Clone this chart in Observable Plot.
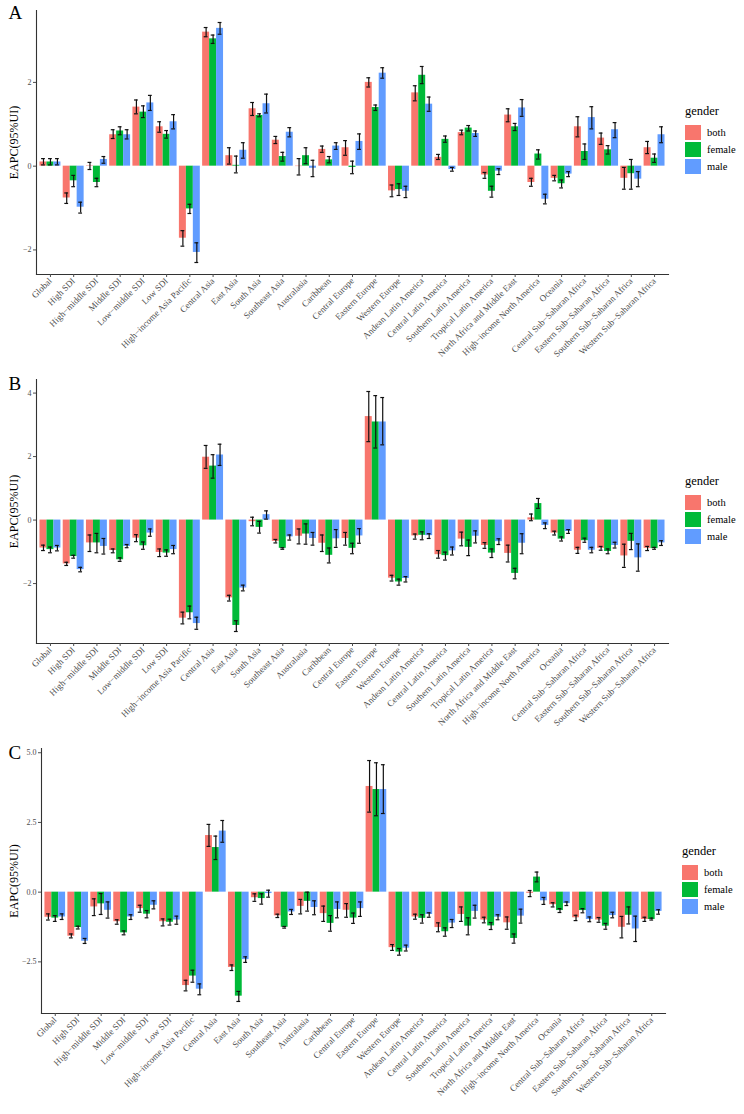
<!DOCTYPE html>
<html>
<head>
<meta charset="utf-8">
<script src="https://cdn.jsdelivr.net/npm/d3@7"></script>
<script src="https://cdn.jsdelivr.net/npm/@observablehq/plot@0.6"></script>
<style>
  body { margin: 0; background: white; }
  #root { position: relative; width: 744px; height: 1114px; font-family: "Liberation Serif", serif; }
  .panel { position: absolute; left: 0; }
  .legend { position: absolute; font-family: "Liberation Serif", serif; color: #000; }
  .legend .title { position: absolute; font-size: 12.5px; white-space: nowrap; }
  .legend .key { position: absolute; width: 16px; height: 15px; }
  .legend .lab { position: absolute; font-size: 10.5px; white-space: nowrap; line-height: 15px; }
</style>
</head>
<body>
<div id="root"></div>
<script>
const regions = ["Global","High SDI","High\u2212middle SDI","Middle SDI","Low\u2212middle SDI","Low SDI","High\u2212income Asia Pacific","Central Asia","East Asia","South Asia","Southeast Asia","Australasia","Caribbean","Central Europe","Eastern Europe","Western Europe","Andean Latin America","Central Latin America","Southern Latin America","Tropical Latin America","North Africa and Middle East","High\u2212income North America","Oceania","Central Sub\u2212Saharan Africa","Eastern Sub\u2212Saharan Africa","Southern Sub\u2212Saharan Africa","Western Sub\u2212Saharan Africa"];
const genders = ["both","female","male"];
const genderColors = ["#F8766D","#00BA38","#619CFF"];
const yLabel = "EAPC(95%UI)";
const FONT = "Liberation Serif";

// Panel A
const A_both      = [0.10,-0.76,0.01,0.75,1.41,0.94,-1.72,3.20,0.25,1.37,0.62,-0.01,0.40,0.44,2.00,-0.59,1.75,0.21,0.80,-0.21,1.22,-0.39,-0.29,0.94,0.67,-0.29,0.44];
const A_both_lo   = [0.03,-0.89,-0.08,0.66,1.25,0.81,-1.91,3.09,0.05,1.21,0.54,-0.21,0.33,0.26,1.89,-0.73,1.56,0.16,0.75,-0.29,1.06,-0.48,-0.35,0.70,0.52,-0.55,0.30];
const A_both_hi   = [0.18,-0.64,0.09,0.87,1.58,1.06,-1.54,3.31,0.44,1.52,0.71,0.18,0.48,0.61,2.11,-0.45,1.92,0.28,0.86,-0.15,1.37,-0.29,-0.22,1.18,0.79,-0.03,0.59];
const A_female    = [0.10,-0.35,-0.39,0.84,1.29,0.76,-1.02,3.04,0.02,1.21,0.23,0.25,0.15,-0.03,1.40,-0.56,2.17,0.64,0.91,-0.60,0.94,0.29,-0.42,0.35,0.39,-0.18,0.19];
const A_female_lo = [0.03,-0.49,-0.49,0.75,1.16,0.67,-1.13,2.93,-0.16,1.18,0.12,0.06,0.08,-0.18,1.33,-0.70,1.97,0.57,0.84,-0.74,0.85,0.17,-0.52,0.16,0.29,-0.55,0.09];
const A_female_hi = [0.18,-0.22,-0.29,0.94,1.44,0.85,-0.91,3.13,0.24,1.25,0.33,0.44,0.23,0.12,1.46,-0.42,2.38,0.72,0.97,-0.48,1.02,0.39,-0.33,0.53,0.49,0.16,0.29];
const A_male      = [0.10,-0.98,0.16,0.75,1.51,1.06,-2.06,3.29,0.38,1.49,0.81,-0.05,0.48,0.59,2.22,-0.60,1.48,-0.08,0.78,-0.12,1.39,-0.79,-0.19,1.16,0.87,-0.31,0.75];
const A_male_lo   = [0.03,-1.12,0.07,0.65,1.33,0.89,-2.30,3.15,0.19,1.27,0.70,-0.25,0.40,0.40,2.10,-0.75,1.31,-0.12,0.71,-0.20,1.19,-0.90,-0.25,0.89,0.68,-0.49,0.56];
const A_male_hi   = [0.18,-0.86,0.23,0.87,1.69,1.23,-1.83,3.43,0.56,1.72,0.92,0.14,0.56,0.77,2.35,-0.48,1.65,-0.03,0.84,-0.06,1.59,-0.67,-0.13,1.42,1.04,-0.13,0.94];

// Panel B
const B_both      = [-0.88,-1.38,-0.72,-0.96,-0.57,-1.02,-3.09,1.98,-2.45,-0.05,-0.67,-0.51,-0.73,-0.58,3.26,-1.83,-0.50,-1.09,-0.60,-0.80,-1.05,0.07,-0.41,-0.95,-0.89,-1.13,-0.89];
const B_both_lo   = [-0.96,-1.43,-0.99,-1.03,-0.68,-1.15,-3.27,1.63,-2.55,-0.18,-0.72,-0.75,-0.99,-0.79,2.47,-1.92,-0.60,-1.20,-0.81,-0.89,-1.32,-0.02,-0.47,-1.05,-0.95,-1.49,-0.96];
const B_both_hi   = [-0.79,-1.33,-0.47,-0.91,-0.46,-0.91,-2.90,2.35,-2.37,0.09,-0.61,-0.28,-0.47,-0.39,4.05,-1.74,-0.44,-0.96,-0.38,-0.71,-0.79,0.19,-0.35,-0.86,-0.83,-0.76,-0.83];
const B_female    = [-0.93,-1.15,-0.72,-1.25,-0.81,-1.04,-2.92,1.70,-3.32,-0.23,-0.89,-0.44,-1.11,-0.89,3.09,-1.95,-0.48,-1.12,-0.86,-1.04,-1.68,0.52,-0.60,-0.65,-0.99,-0.67,-0.90];
const B_female_lo = [-1.03,-1.20,-1.03,-1.30,-0.92,-1.14,-3.11,1.32,-3.51,-0.41,-0.92,-0.76,-1.35,-1.06,2.27,-2.05,-0.62,-1.26,-1.12,-1.18,-1.85,0.37,-0.66,-0.70,-1.06,-0.93,-0.92];
const B_female_hi = [-0.85,-1.11,-0.42,-1.19,-0.69,-0.94,-2.71,2.06,-3.17,-0.04,-0.87,-0.12,-0.88,-0.73,3.92,-1.86,-0.37,-1.01,-0.63,-0.91,-1.52,0.68,-0.53,-0.57,-0.91,-0.42,-0.86];
const B_male      = [-0.88,-1.56,-0.83,-0.83,-0.41,-0.93,-3.26,2.05,-2.14,0.17,-0.53,-0.58,-0.59,-0.50,3.09,-1.84,-0.49,-0.97,-0.51,-0.68,-0.73,-0.17,-0.36,-0.95,-0.80,-1.19,-0.72];
const B_male_lo   = [-0.97,-1.63,-1.07,-0.87,-0.51,-1.06,-3.44,1.72,-2.23,0.03,-0.63,-0.79,-0.86,-0.73,2.37,-1.95,-0.58,-1.10,-0.72,-0.77,-1.06,-0.27,-0.42,-1.03,-0.88,-1.61,-0.80];
const B_male_hi   = [-0.80,-1.49,-0.58,-0.77,-0.28,-0.80,-3.06,2.39,-2.05,0.29,-0.47,-0.39,-0.30,-0.27,3.86,-1.78,-0.43,-0.85,-0.34,-0.59,-0.43,-0.09,-0.30,-0.86,-0.70,-0.75,-0.65];

// Panel C
const C_both      = [-0.90,-1.58,-0.53,-1.06,-0.59,-1.06,-3.35,2.03,-2.70,-0.20,-0.85,-0.51,-0.77,-0.65,3.79,-1.99,-0.89,-1.27,-0.80,-1.00,-1.10,-0.04,-0.45,-0.92,-1.00,-1.26,-0.98];
const C_both_lo   = [-1.00,-1.64,-0.84,-1.15,-0.72,-1.21,-3.54,1.64,-2.81,-0.33,-0.91,-0.78,-1.05,-0.90,2.87,-2.09,-0.97,-1.42,-1.05,-1.10,-1.33,-0.16,-0.53,-1.02,-1.08,-1.64,-1.05];
const C_both_hi   = [-0.78,-1.50,-0.24,-0.99,-0.47,-0.96,-3.16,2.43,-2.61,-0.06,-0.79,-0.26,-0.50,-0.41,4.72,-1.88,-0.79,-1.10,-0.53,-0.90,-0.89,0.06,-0.38,-0.83,-0.91,-0.87,-0.90];
const C_female    = [-0.93,-1.27,-0.42,-1.46,-0.79,-1.08,-3.01,1.60,-3.73,-0.23,-1.26,-0.33,-1.12,-0.93,3.68,-2.15,-0.94,-1.42,-1.22,-1.21,-1.66,0.54,-0.66,-0.66,-1.22,-0.83,-0.98];
const C_female_lo = [-1.05,-1.32,-0.80,-1.53,-0.92,-1.18,-3.23,1.17,-3.92,-0.43,-1.29,-0.68,-1.40,-1.12,2.74,-2.26,-1.11,-1.58,-1.53,-1.34,-1.83,0.37,-0.73,-0.74,-1.33,-1.14,-1.00];
const C_female_hi = [-0.84,-1.22,-0.05,-1.39,-0.66,-0.97,-2.80,2.01,-3.56,-0.06,-1.23,0.00,-0.84,-0.75,4.64,-2.02,-0.81,-1.28,-0.92,-1.09,-1.50,0.72,-0.59,-0.59,-1.12,-0.53,-0.93];
const C_male      = [-0.89,-1.76,-0.65,-0.89,-0.47,-1.00,-3.48,2.19,-2.42,-0.05,-0.71,-0.55,-0.62,-0.59,3.68,-2.01,-0.80,-1.11,-0.69,-0.90,-0.86,-0.31,-0.41,-0.98,-0.84,-1.32,-0.69];
const C_male_lo   = [-0.98,-1.84,-0.93,-0.98,-0.60,-1.15,-3.68,1.79,-2.52,-0.18,-0.80,-0.81,-0.92,-0.87,2.82,-2.11,-0.90,-1.27,-0.93,-0.99,-1.11,-0.44,-0.48,-1.06,-0.92,-1.77,-0.79];
const C_male_hi   = [-0.78,-1.66,-0.35,-0.81,-0.31,-0.86,-3.29,2.57,-2.32,0.07,-0.62,-0.31,-0.35,-0.35,4.57,-1.90,-0.74,-0.98,-0.47,-0.81,-0.61,-0.19,-0.35,-0.89,-0.72,-0.86,-0.63];

const A_ticks = [-2, 0, 2];
const B_ticks = [-2, 0, 2, 4];
const C_ticks = [-2.5, 0, 2.5, 5];

const W = 744;
const root = document.getElementById("root");

function makePanel(p) {
  const data = genders.map((g, k) => regions.map((r, i) => ({
    region: r, gender: g, value: p.series[k][0][i], lo: p.series[k][1][i], hi: p.series[k][2][i]
  })));
  const all = data.flat();
  const mn = Math.min(0, d3.min(all, d => Math.min(d.lo, d.value)));
  const mx = Math.max(0, d3.max(all, d => Math.max(d.hi, d.value)));
  const ex = (mx - mn) * 0.05;
  const step = (W - p.ml - p.mr) / (regions.length - 0.1 + 0.3);
  const bw = step * 0.9;
  const sub = bw / 3;
  const cap = 1.9;
  const marks = [];
  data.forEach((dk, k) => {
    marks.push(Plot.barY(dk, {x: "region", y: "value", fill: genderColors[k], insetLeft: k * sub, insetRight: (2 - k) * sub}));
  });
  data.forEach((dk, k) => {
    const dx = (k - 1) * sub;
    marks.push(Plot.ruleX(dk, {x: "region", y1: "lo", y2: "hi", dx, stroke: "#111", strokeWidth: 1.2}));
    marks.push(Plot.tickY(dk, {x: "region", y: "lo", dx, stroke: "#111", strokeWidth: 1.2, insetLeft: bw / 2 - cap, insetRight: bw / 2 - cap}));
    marks.push(Plot.tickY(dk, {x: "region", y: "hi", dx, stroke: "#111", strokeWidth: 1.2, insetLeft: bw / 2 - cap, insetRight: bw / 2 - cap}));
  });
  marks.push(Plot.frame({anchor: "left", stroke: "#333", strokeWidth: 1.1}));
  marks.push(Plot.frame({anchor: "bottom", stroke: "#333", strokeWidth: 1.1}));
  marks.push(Plot.axisX({tickRotate: -45, fontSize: 9, fontFamily: FONT, tickSize: 3, tickPadding: 2, color: "#4d4d4d", label: null}));
  marks.push(Plot.axisY({ticks: p.ticks, tickFormat: p.fmt, fontSize: 8, fontFamily: FONT, tickSize: 3, tickPadding: 2, color: "#4d4d4d", label: null}));
  marks.push(Plot.text([yLabel], {frameAnchor: "left", dx: p.ylabX - p.ml, rotate: -90, textAnchor: "middle", fontSize: 12, fontFamily: FONT, fill: "#000"}));
  marks.push(Plot.text([p.letter], {frameAnchor: "top-left", dx: 8 - p.ml, dy: p.letterDy, textAnchor: "start", lineAnchor: "top", fontSize: 19, fontFamily: FONT, fill: "#000"}));

  const chart = Plot.plot({
    width: W, height: p.height,
    marginTop: p.mt, marginBottom: p.mb, marginLeft: p.ml, marginRight: p.mr,
    style: {fontFamily: "'Liberation Serif', serif", background: "transparent", overflow: "visible"},
    x: {type: "band", domain: regions, paddingInner: 0.1, paddingOuter: 0.15, align: 0.5, round: false},
    y: {domain: [mn - ex, mx + ex]},
    marks
  });
  const wrap = document.createElement("div");
  wrap.className = "panel";
  wrap.style.top = p.top + "px";
  wrap.appendChild(chart);
  root.appendChild(wrap);

  const lg = document.createElement("div");
  lg.className = "legend";
  lg.style.left = p.legX + "px";
  lg.style.top = p.legY + "px";
  let html = `<div class="title" style="left:0;top:0">gender</div>`;
  genders.forEach((g, k) => {
    html += `<div class="key" style="left:0;top:${21 + k * 17}px;background:${genderColors[k]}"></div>`;
    html += `<div class="lab" style="left:22px;top:${21 + k * 17}px">${g}</div>`;
  });
  lg.innerHTML = html;
  root.appendChild(lg);
}

makePanel({letter: "A", top: 0, height: 372, mt: 10, mb: 98, ml: 36, mr: 76, ylabX: 14, letterDy: -5,
  ticks: A_ticks, fmt: d3.format("~g"), legX: 685, legY: 104,
  series: [[A_both, A_both_lo, A_both_hi], [A_female, A_female_lo, A_female_hi], [A_male, A_male_lo, A_male_hi]]});
makePanel({letter: "B", top: 372, height: 370, mt: 7, mb: 99, ml: 36, mr: 76, ylabX: 14, letterDy: -3,
  ticks: B_ticks, fmt: d3.format("~g"), legX: 685, legY: 474,
  series: [[B_both, B_both_lo, B_both_hi], [B_female, B_female_lo, B_female_hi], [B_male, B_male_lo, B_male_hi]]});
makePanel({letter: "C", top: 742, height: 372, mt: 6, mb: 101, ml: 41, mr: 79, ylabX: 14, letterDy: -3,
  ticks: C_ticks, fmt: d3.format(".1f"), legX: 682, legY: 844,
  series: [[C_both, C_both_lo, C_both_hi], [C_female, C_female_lo, C_female_hi], [C_male, C_male_lo, C_male_hi]]});
</script>
</body>
</html>
